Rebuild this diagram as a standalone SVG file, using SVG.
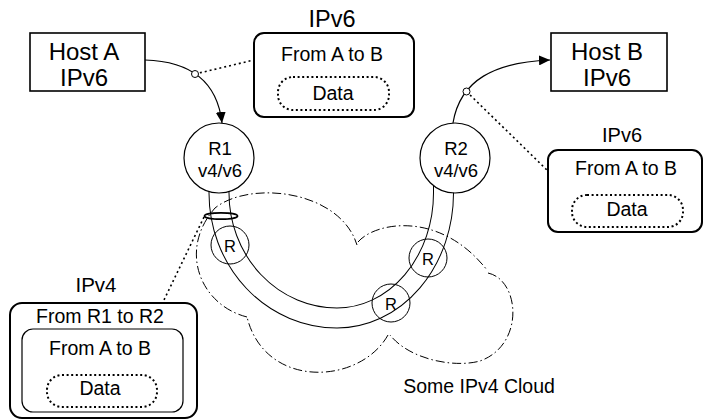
<svg xmlns="http://www.w3.org/2000/svg" width="704" height="420" viewBox="0 0 704 420">
<style>
text{font-family:"Liberation Sans",Arial,sans-serif;fill:#000;text-anchor:middle}
.host{fill:#fff;stroke:#000;stroke-width:1.6}
.pkt{fill:#fff;stroke:#000;stroke-width:2}
.inner{fill:none;stroke:#000;stroke-width:1.2}
.data{fill:none;stroke:#000;stroke-width:2;stroke-dasharray:2 2.6}
.rtr{fill:#fff;stroke:#000;stroke-width:1.2}
.r{fill:none;stroke:#000;stroke-width:1}
.edge{fill:none;stroke:#000;stroke-width:1.2}
.dot{fill:none;stroke:#000;stroke-width:1.6;stroke-dasharray:2 3}
.tap{fill:#fff;stroke:#000;stroke-width:1}
.cloud{fill:none;stroke:#000;stroke-width:1;stroke-dasharray:9 3 1.5 3}
.t19{font-size:19.5px}
.t18{font-size:18.5px}
.t24{font-size:24px}
.t16{font-size:16.5px}
</style>
<defs>
<marker id="arr" markerUnits="userSpaceOnUse" viewBox="0 0 11 10" markerWidth="11" markerHeight="10" refX="11" refY="5" orient="auto">
<path d="M0,0 L11,5 L0,10 z" fill="#000"/>
</marker>
</defs>

<g id="tunnel">
<path d="M219,175 L219,193 A118,125 0 0 0 337,318 A106.5,125 0 0 0 443.5,193 L443.5,175" fill="none" stroke="#000" stroke-width="21"/>
<path d="M219,170 L219,193 A118,125 0 0 0 337,318 A106.5,125 0 0 0 443.5,193 L443.5,170" fill="none" stroke="#fff" stroke-width="19"/>
</g>

<g id="cloud">
<path class="cloud" d="M247,317 C200,305 178,250 215,208 C250,180 340,190 357,245 M358,242 C375,222 440,210 487,270 M488,273 C520,280 525,345 480,361 C455,368 410,360 390,335 M388,335 C360,385 265,390 247,317"/>
<text class="t19" x="479" y="393">Some IPv4 Cloud</text>
</g>

<g id="connectors">
<path class="edge" d="M145,60 Q215,62 222,123" marker-end="url(#arr)"/>
<path class="edge" d="M453,123 C460,80 495,62 550,60" marker-end="url(#arr)"/>
<line class="dot" x1="195" y1="74" x2="254" y2="60"/>
<line class="dot" x1="466.5" y1="91.5" x2="548" y2="171"/>
<line class="dot" x1="204" y1="217" x2="163" y2="302"/>
<circle class="tap" cx="195" cy="74" r="3.5"/>
<circle class="tap" cx="466.5" cy="91.5" r="3.5"/>
<ellipse cx="221" cy="216" rx="16.5" ry="3.2" fill="none" stroke="#000" stroke-width="1.8"/>
</g>

<g id="hostA">
<rect class="host" x="30" y="33" width="115" height="58"/>
<text class="t24" x="84" y="60">Host A</text>
<text class="t24" x="84" y="86">IPv6</text>
</g>

<g id="hostB">
<rect class="host" x="551" y="33" width="116" height="58"/>
<text class="t24" x="607" y="60">Host B</text>
<text class="t24" x="607" y="86">IPv6</text>
</g>

<g id="r1">
<circle class="rtr" cx="219" cy="158" r="35"/>
<text class="t18" x="220" y="154.5">R1</text>
<text class="t18" x="220" y="176.5">v4/v6</text>
</g>

<g id="r2">
<circle class="rtr" cx="455" cy="158" r="35"/>
<text class="t18" x="456" y="154.5">R2</text>
<text class="t18" x="456" y="176.5">v4/v6</text>
</g>

<g id="rA">
<circle class="r" cx="230" cy="245" r="19"/>
<text class="t16" x="230" y="251.5">R</text>
</g>
<g id="rB">
<circle class="r" cx="428" cy="258" r="19"/>
<text class="t16" x="428" y="264.5">R</text>
</g>
<g id="rC">
<circle class="r" cx="391" cy="303" r="19"/>
<text class="t16" x="391" y="309.5">R</text>
</g>

<g id="pktTop">
<text class="t24" x="332" y="27" style="font-size:23.5px">IPv6</text>
<rect class="pkt" x="254" y="33" width="160" height="84" rx="10"/>
<text class="t19" x="332" y="61">From A to B</text>
<rect class="data" x="278" y="77" width="111" height="33" rx="15"/>
<text class="t19" x="333" y="100">Data</text>
</g>

<g id="pktRight">
<text class="t19" x="622" y="142" style="font-size:20px">IPv6</text>
<rect class="pkt" x="548" y="150" width="154" height="82" rx="10"/>
<text class="t19" x="626" y="175">From A to B</text>
<rect class="data" x="572" y="195" width="111" height="32" rx="15"/>
<text class="t19" x="627" y="216">Data</text>
</g>

<g id="pktLeft">
<text class="t19" x="96" y="292" style="font-size:20.5px">IPv4</text>
<rect class="pkt" x="10" y="303" width="187" height="115" rx="12"/>
<text class="t19" x="100" y="323">From R1 to R2</text>
<rect class="inner" x="22" y="329" width="161" height="83" rx="11"/>
<text class="t19" x="100" y="355">From A to B</text>
<rect class="data" x="47" y="375" width="110" height="32" rx="15"/>
<text class="t19" x="100" y="395">Data</text>
</g>
</svg>
